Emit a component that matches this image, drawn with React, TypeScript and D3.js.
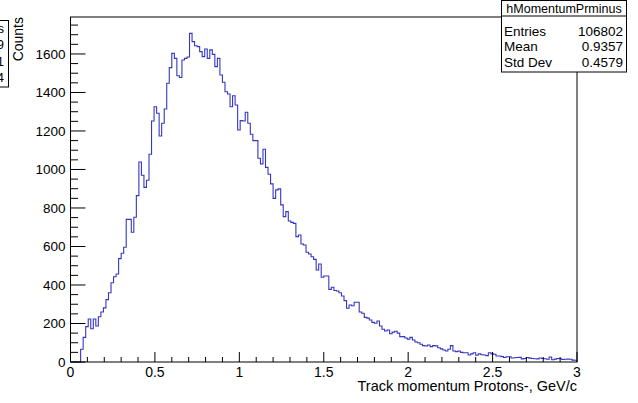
import React from "react";
import * as d3 from "d3";

// Histogram: 200 bins from 0 to 3 GeV/c
const binLow = 0;
const binHigh = 3;
const counts: number[] = [
  0, 0, 0, 0, 66, 128, 184, 223, 173, 223,
  187, 235, 260, 281, 324, 360, 412, 443, 457, 537,
  565, 596, 741, 741, 674, 752, 864, 1039, 970, 907,
  944, 1079, 1252, 1326, 1292, 1174, 1240, 1314, 1448, 1529,
  1603, 1577, 1487, 1478, 1569, 1577, 1584, 1707, 1664, 1643,
  1638, 1612, 1586, 1626, 1577, 1621, 1598, 1534, 1577, 1491,
  1453, 1404, 1392, 1326, 1383, 1335, 1205, 1254, 1252, 1297,
  1240, 1183, 1150, 1150, 1058, 1029, 1105, 1011, 975, 925,
  850, 894, 899, 816, 755, 781, 732, 725, 720, 651,
  660, 613, 608, 570, 561, 547, 533, 478, 509, 440,
  447, 447, 377, 388, 371, 369, 360, 343, 319, 279,
  296, 292, 310, 310, 260, 253, 232, 228, 218, 206,
  201, 213, 187, 170, 161, 166, 147, 155, 160, 150,
  132, 132, 125, 119, 128, 114, 104, 100, 92, 85,
  83, 88, 80, 85, 84, 74, 68, 62, 57, 66,
  85, 57, 54, 57, 50, 48, 48, 36, 42, 48,
  35, 42, 38, 36, 33, 48, 42, 40, 31, 31,
  28, 23, 27, 27, 21, 22, 23, 24, 16, 18,
  23, 20, 18, 17, 16, 21, 18, 17, 14, 26,
  12, 15, 18, 17, 13, 14, 15, 14, 10, 9,
];

const yMax = 1792;
const xMajorTicks = [0, 0.5, 1, 1.5, 2, 2.5, 3];
const xTickLabels = ["0", "0.5", "1", "1.5", "2", "2.5", "3"];
const yMajorTicks = [0, 200, 400, 600, 800, 1000, 1200, 1400, 1600];

const histName = "hMomentumPrminus";
const statLabels = ["Entries", "Mean", "Std Dev"];
const statValues = ["106802", "0.9357", "0.4579"];
const hiddenBoxTails = ["s", "9", "1", "4"];

const xTitle = "Track momentum Protons-, GeV/c";
const yTitle = "Counts";

const W = 638;
const H = 403;
const FONT = "'Liberation Sans', Arial, Helvetica, sans-serif";

export default function App() {
  const frameL = 70.5;
  const frameR = 577;
  const frameT = 17;
  const frameB = 362;
  const x = d3.scaleLinear().domain([binLow, binHigh]).range([frameL, frameR]);
  const y = d3.scaleLinear().domain([0, yMax]).range([frameB, frameT]);

  const nb = counts.length;
  const bw = (binHigh - binLow) / nb;
  const pts: [number, number][] = [];
  counts.forEach((c, i) => {
    pts.push([binLow + i * bw, c]);
    pts.push([binLow + (i + 1) * bw, c]);
  });
  const line = d3
    .line<[number, number]>()
    .x((d) => x(d[0]))
    .y((d) => y(d[1]));
  const path = line(pts) || "";

  const xMinor = d3.range(0, 31).map((i) => i * 0.1).filter((v) => Math.abs((v * 2) - Math.round(v * 2)) > 1e-6);
  const yMinor = d3.range(0, yMax, 50).filter((v) => v % 200 !== 0);

  const boxL = 501.5;
  const boxR = 626.5;
  const boxT = 0.5;
  const boxB = 72;
  const sep = 16;

  return (
    <svg
      width={W}
      height={H}
      viewBox={`0 0 ${W} ${H}`}
      style={{ position: "absolute", left: 0, top: 0, background: "#fff" }}
      fontFamily={FONT}
    >
      <rect x={0} y={0} width={W} height={H} fill="#fff" />
      {/* clipped stats box at far left */}
      <g>
        <rect x={-120} y={20.5} width={128.5} height={66.5} fill="#fff" stroke="#000" strokeWidth={1} />
        {hiddenBoxTails.map((t, i) => (
          <text key={i} x={4} y={[33, 49, 66, 82][i]} fontSize={13} textAnchor="end" fill="#000">
            {t}
          </text>
        ))}
      </g>

      {/* histogram */}
      <path d={path} fill="none" stroke="#3636c4" strokeWidth={1.1} />

      {/* frame */}
      <rect x={frameL} y={frameT} width={frameR - frameL} height={frameB - frameT} fill="none" stroke="#000" strokeWidth={1} />

      {/* x ticks */}
      {xMajorTicks.map((t, i) => (
        <g key={"xt" + i}>
          <line x1={x(t)} x2={x(t)} y1={frameB} y2={frameB - 10} stroke="#000" />
          <text x={x(t)} y={377} fontSize={14} textAnchor="middle" fill="#000">
            {xTickLabels[i]}
          </text>
        </g>
      ))}
      {xMinor.map((t, i) => (
        <line key={"xm" + i} x1={x(t)} x2={x(t)} y1={frameB} y2={frameB - 5} stroke="#000" />
      ))}

      {/* y ticks */}
      {yMajorTicks.map((t, i) => (
        <g key={"yt" + i}>
          <line x1={frameL} x2={frameL + 15} y1={y(t)} y2={y(t)} stroke="#000" />
          <text x={65.5} y={y(t) + 5} fontSize={13.5} textAnchor="end" fill="#000">
            {String(t)}
          </text>
        </g>
      ))}
      {yMinor.map((t, i) => (
        <line key={"ym" + i} x1={frameL} x2={frameL + 7.5} y1={y(t)} y2={y(t)} stroke="#000" />
      ))}

      {/* axis titles */}
      <text x={frameR} y={391} fontSize={14.5} textAnchor="end" fill="#000">
        {xTitle}
      </text>
      <text
        transform={`translate(23,${frameT}) rotate(-90)`}
        fontSize={14}
        textAnchor="end"
        fill="#000"
      >
        {yTitle}
      </text>

      {/* stats box */}
      <rect x={boxL} y={boxT} width={boxR - boxL} height={boxB - boxT} fill="#fff" stroke="#000" strokeWidth={1} />
      <line x1={boxL} x2={boxR} y1={sep} y2={sep} stroke="#000" />
      <text x={(boxL + boxR) / 2} y={12.5} fontSize={12.5} textAnchor="middle" fill="#000">
        {histName}
      </text>
      {statLabels.map((l, i) => (
        <g key={"st" + i}>
          <text x={504} y={35.5 + i * 15.7} fontSize={13.5} fill="#000">
            {l}
          </text>
          <text x={623} y={35.5 + i * 15.7} fontSize={13.5} textAnchor="end" fill="#000">
            {statValues[i]}
          </text>
        </g>
      ))}
    </svg>
  );
}
